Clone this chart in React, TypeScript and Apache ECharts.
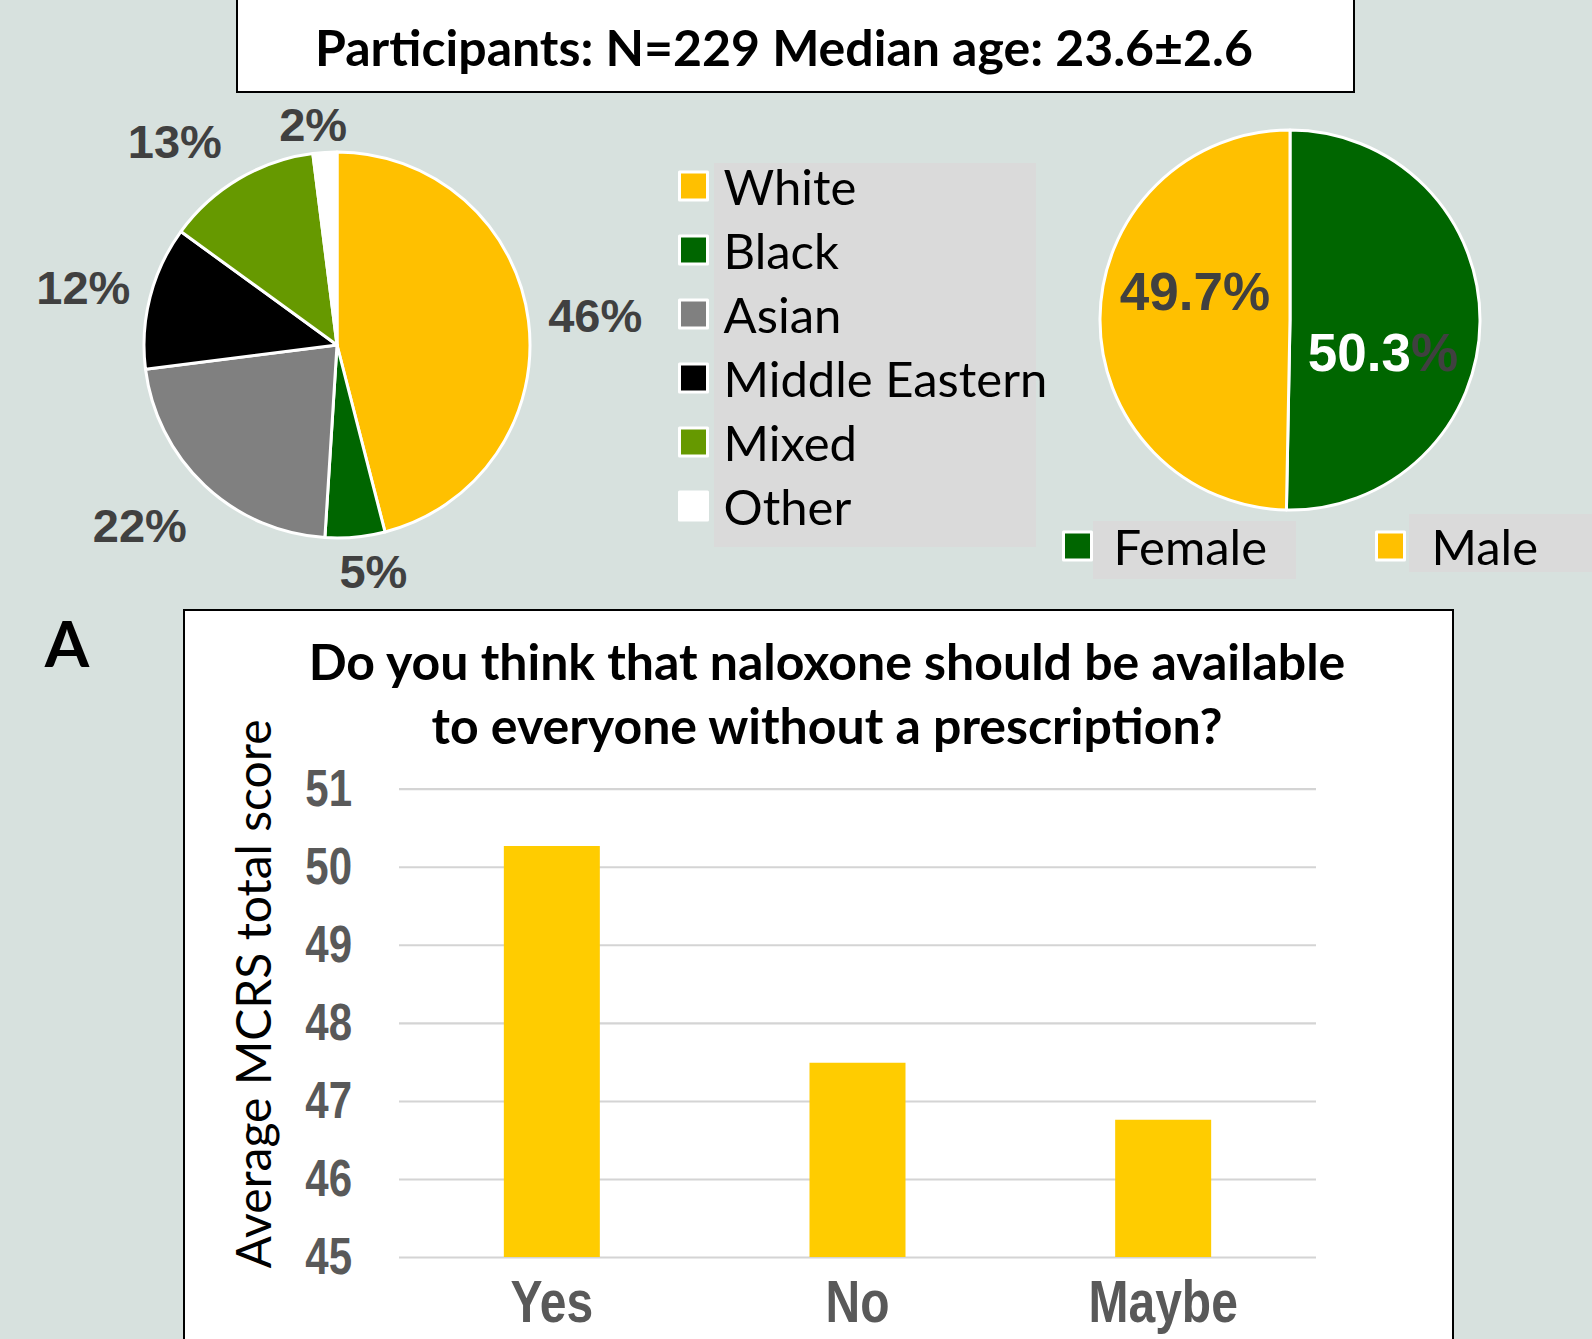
import React, { useEffect, useRef } from "react";
import * as echarts from "echarts";

// ---------- data ----------
const headerText = "Participants: N=229 Median age: 23.6±2.6";

const raceNames = ["White", "Black", "Asian", "Middle Eastern", "Mixed", "Other"];
const racePercents = [46, 5, 22, 12, 13, 2];
const raceColors = ["#FFC000", "#006600", "#808080", "#000000", "#669900", "#FFFFFF"];

const genderNames = ["Female", "Male"];
const genderPercents = [50.3, 49.7];
const genderColors = ["#006600", "#FFC000"];

const panelLetter = "A";
const barTitle = "Do you think that naloxone should be available\nto everyone without a prescription?";
const barCategories = ["Yes", "No", "Maybe"];
const barValues = [50.27, 47.49, 46.76];
const yAxisTitle = "Average MCRS total score";
const yMin = 45;
const yMax = 51;
const yStep = 1;

// ---------- label placement styles (not data) ----------
const raceLabelLineLen = [39, 35, 54, 40, 43, 28];
const raceLabelDist = [-19, -19, -19, -19, -5, -24];
const genderLabelPad = [
  [64, 10, 0, 0],
  [0, 0, 56, 6],
];

const BG = "#D7E1DE";
const STRETCH = 1.22;
const BOTTOM_TOP = 600;
const BOTTOM_H = 606;
const fy = (Y: number) => (Y - BOTTOM_TOP) / STRETCH;

const LATO = "Lato";
const ARIAL = "Liberation Sans";

export default function App() {
  const topRef = useRef<HTMLDivElement>(null);
  const botRef = useRef<HTMLDivElement>(null);

  useEffect(() => {
    const top = echarts.init(topRef.current!, undefined, { renderer: "svg" });
    const bot = echarts.init(botRef.current!, undefined, { renderer: "svg" });

    const legendText = {
      fontFamily: LATO,
      fontSize: 49,
      lineHeight: 50,
      color: "#000",
    };
    const legendCommon = {
      icon: "rect",
      itemWidth: 28,
      itemHeight: 28,
      padding: 0,
      selectedMode: false,
      itemStyle: { borderColor: "#fff", borderWidth: 3 },
    };
    const centered = {
      align: "center",
      verticalAlign: "middle",
      textAlign: "center",
      textVerticalAlign: "middle",
    };

    top.setOption({
      animation: false,
      backgroundColor: BG,
      graphic: [
        {
          type: "rect",
          z: 0,
          shape: { x: 237, y: -10, width: 1117, height: 102 },
          style: { fill: "#fff", stroke: "#000", lineWidth: 2 },
        },
        {
          type: "text",
          z: 1,
          style: {
            ...centered,
            text: headerText,
            x: 784,
            y: 47,
            fontFamily: LATO,
            fontWeight: "bold",
            fontSize: 50,
            fill: "#000",
          },
        },
        { type: "rect", z: 0, shape: { x: 714, y: 163, width: 322, height: 384 }, style: { fill: "#DADADA" } },
        { type: "rect", z: 0, shape: { x: 1093, y: 521, width: 203, height: 58 }, style: { fill: "#DADADA" } },
        { type: "rect", z: 0, shape: { x: 1409, y: 514, width: 183, height: 58 }, style: { fill: "#DADADA" } },
        {
          type: "text",
          z: 1,
          style: {
            ...centered,
            text: panelLetter,
            x: 67,
            y: 642,
            fontFamily: LATO,
            fontWeight: "bold",
            fontSize: 64,
            fill: "#000",
          },
        },
        {
          type: "rect",
          z: 0,
          shape: { x: 184, y: 610, width: 1269, height: 800 },
          style: { fill: "#fff", stroke: "#000", lineWidth: 2 },
        },
        {
          type: "text",
          z: 1,
          style: {
            ...centered,
            text: barTitle,
            x: 827,
            y: 693,
            fontFamily: LATO,
            fontWeight: "bold",
            fontSize: 50,
            lineHeight: 64,
            fill: "#000",
          },
        },
        {
          type: "text",
          z: 1,
          x: 252,
          y: 994,
          rotation: Math.PI / 2,
          style: {
            ...centered,
            text: yAxisTitle,
            x: 0,
            y: 0,
            fontFamily: LATO,
            fontSize: 48,
            fill: "#000",
          },
        },
      ],
      legend: [
        {
          ...legendCommon,
          data: raceNames,
          orient: "vertical",
          left: 678,
          top: 161,
          itemGap: 14,
          textStyle: { ...legendText, padding: [0, 0, 0, 11] },
        },
        {
          ...legendCommon,
          data: ["Female"],
          orient: "horizontal",
          left: 1062,
          top: 521,
          textStyle: { ...legendText, padding: [0, 0, 0, 17] },
        },
        {
          ...legendCommon,
          data: ["Male"],
          orient: "horizontal",
          left: 1375,
          top: 521,
          textStyle: { ...legendText, padding: [0, 0, 0, 22] },
        },
      ],
      series: [
        {
          type: "pie",
          center: [337, 345],
          radius: 193,
          startAngle: 90,
          clockwise: true,
          avoidLabelOverlap: false,
          emphasis: { disabled: true },
          itemStyle: { borderColor: "#fff", borderWidth: 3 },
          label: {
            show: true,
            position: "outside",
            formatter: "{c}%",
            fontFamily: ARIAL,
            fontWeight: "bold",
            fontSize: 47,
            color: "#404040",
            distanceToLabelLine: -19,
          },
          labelLine: { show: false, length: 40, length2: 0 },
          data: raceNames.map((n, i) => ({
            name: n,
            value: racePercents[i],
            itemStyle: { color: raceColors[i] },
            label: { distanceToLabelLine: raceLabelDist[i] },
            labelLine: { show: false, length: raceLabelLineLen[i], length2: 0 },
          })),
        },
        {
          type: "pie",
          center: [1290, 320],
          radius: 190,
          startAngle: 90,
          clockwise: true,
          emphasis: { disabled: true },
          itemStyle: { borderColor: "#fff", borderWidth: 3 },
          label: {
            show: true,
            position: "inside",
            formatter: (p: any) =>
              p.name === "Female" ? `{w|${p.value}}{g|%}` : `{g|${p.value}%}`,
            fontFamily: ARIAL,
            fontWeight: "bold",
            fontSize: 53,
            color: "#404040",
            rich: {
              w: { color: "#FFFFFF", fontFamily: ARIAL, fontWeight: "bold", fontSize: 53 },
              g: { color: "#404040", fontFamily: ARIAL, fontWeight: "bold", fontSize: 53 },
            },
          },
          labelLine: { show: false },
          data: genderNames.map((n, i) => ({
            name: n,
            value: genderPercents[i],
            itemStyle: { color: genderColors[i] },
            label: { padding: genderLabelPad[i] },
          })),
        },
      ],
    });

    bot.setOption({
      animation: false,
      backgroundColor: "transparent",
      grid: {
        left: 399,
        right: 1592 - 1316,
        top: fy(789),
        bottom: BOTTOM_H - fy(1257),
        containLabel: false,
      },
      xAxis: {
        type: "category",
        data: barCategories,
        axisLine: { show: false },
        axisTick: { show: false },
        axisLabel: {
          margin: 15,
          fontFamily: ARIAL,
          fontWeight: "bold",
          fontSize: 48,
          lineHeight: 44,
          color: "#595959",
        },
      },
      yAxis: {
        type: "value",
        min: yMin,
        max: yMax,
        interval: yStep,
        axisLine: { show: false },
        axisTick: { show: false },
        splitLine: { lineStyle: { color: "#D4D4D4", width: 1.7 } },
        axisLabel: {
          margin: 47,
          fontFamily: ARIAL,
          fontWeight: "bold",
          fontSize: 42,
          color: "#595959",
        },
      },
      series: [
        {
          type: "bar",
          data: barValues,
          barWidth: 96,
          itemStyle: { color: "#FFCC00" },
          emphasis: { disabled: true },
        },
      ],
    });

    return () => {
      top.dispose();
      bot.dispose();
    };
  }, []);

  return (
    <div
      style={{
        position: "absolute",
        left: 0,
        top: 0,
        width: 1592,
        height: 1339,
        overflow: "hidden",
        background: BG,
      }}
    >
      <div ref={topRef} style={{ position: "absolute", left: 0, top: 0, width: 1592, height: 1339 }} />
      <div
        ref={botRef}
        style={{
          position: "absolute",
          left: 0,
          top: BOTTOM_TOP,
          width: 1592,
          height: BOTTOM_H,
          transform: `scaleY(${STRETCH})`,
          transformOrigin: "0 0",
        }}
      />
    </div>
  );
}
